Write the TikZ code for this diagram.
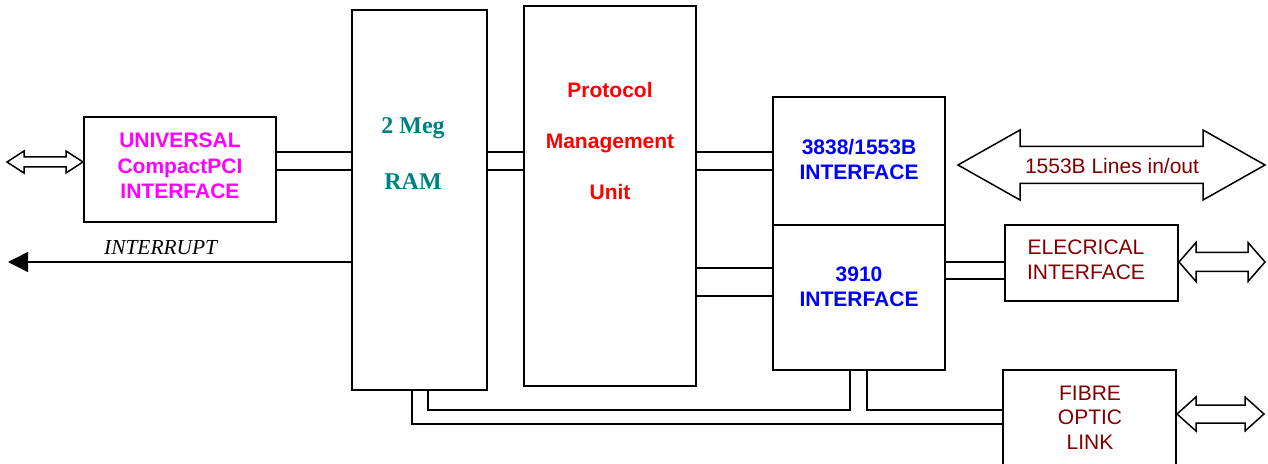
\documentclass[tikz,border=0pt]{standalone}
\usepackage{fontspec}
\setmainfont{Liberation Serif}
\setsansfont{Liberation Sans}
\usetikzlibrary{arrows.meta,calc}
\definecolor{pcic}{HTML}{FF00FF}
\definecolor{ramc}{HTML}{008080}
\definecolor{pmuc}{HTML}{FF0000}
\definecolor{ifc}{HTML}{0000FF}
\definecolor{extc}{HTML}{800000}
\tikzset{
  blk/.style={draw,line width=1pt,inner sep=0pt},
  lbl/.style={font=\sffamily\bfseries\fontsize{10.5}{12.75}\selectfont,align=center,inner sep=0pt},
  pmulbl/.style={lbl,font=\sffamily\bfseries\fontsize{10.5}{25.5}\selectfont,text=pmuc},
  ramlbl/.style={font=\rmfamily\bfseries\fontsize{12}{28}\selectfont,text=ramc,align=center,inner sep=0pt},
  ext/.style={font=\sffamily\fontsize{10.5}{12.25}\selectfont,text=extc,align=center,inner sep=0pt},
  bus/.style={line width=0.75pt},
  dbl/.style={draw,line width=0.75pt,fill=white,line join=miter},
}
% hollow double arrow between two points at the same height
\newcommand{\dblarr}[5]{\draw[dbl] (#1) -- ([shift={(#3,-#4)}]#1) -- ([shift={(#3,-#5)}]#1)
  -- ([shift={(-#3,-#5)}]#2) -- ([shift={(-#3,-#4)}]#2) -- (#2) -- ([shift={(-#3,#4)}]#2)
  -- ([shift={(-#3,#5)}]#2) -- ([shift={(#3,#5)}]#1) -- ([shift={(#3,#4)}]#1) -- cycle;}
\begin{document}
\begin{tikzpicture}[x=0.5pt,y=-0.5pt]
  \useasboundingbox (0,0) rectangle (1268,464);
  \clip (0,0) rectangle (1268,464);
  % blocks
  \node[blk,minimum width=96pt,minimum height=52.5pt] (upci) at (180,169.5) {};
  \node[blk,minimum width=67.5pt,minimum height=190pt] (ram) at (419.5,200) {};
  \node[blk,minimum width=86pt,minimum height=190pt] (pmu) at (610,196) {};
  \node[blk,minimum width=86pt,minimum height=64pt] (mil) at (859,161) {};
  \node[blk,minimum width=86pt,minimum height=72.5pt] (ifx) at (859,297.5) {};
  \node[blk,minimum width=86.5pt,minimum height=38pt] (elec) at (1091.5,263) {};
  \node[blk,minimum width=86.5pt,minimum height=50pt] (fibre) at (1089.5,420) {};
  % labels
  \node[lbl,text=pcic] (upcit) at (180,166) {UNIVERSAL\\CompactPCI\\INTERFACE};
  \node[ramlbl] (ramt) at (413,154) {2 Meg\\RAM};
  \node[pmulbl] (pmut) at (610,141) {Protocol\\Management\\Unit};
  \node[lbl,text=ifc] (milt) at (859,159.5) {3838/1553B\\INTERFACE};
  \node[lbl,text=ifc] (ifxt) at (859,287) {3910\\INTERFACE};
  \node[ext] (elect) at (1086,260) {ELECRICAL\\INTERFACE};
  \node[ext] (fibret) at (1090,417.5) {FIBRE\\OPTIC\\LINK};
  % parallel links
  \foreach \y in {152,170} {
    \draw[bus] (upci.east |- 0,\y) -- (ram.west |- 0,\y);
    \draw[bus] (ram.east |- 0,\y) -- (pmu.west |- 0,\y);
    \draw[bus] (pmu.east |- 0,\y) -- (mil.west |- 0,\y);
  }
  \foreach \y in {268,296} \draw[bus] (pmu.east |- 0,\y) -- (ifx.west |- 0,\y);
  \foreach \y in {262,279} \draw[bus] (ifx.east |- 0,\y) -- (elec.west |- 0,\y);
  % interrupt
  \coordinate (irq) at (8,262);
  \draw[bus,-{Triangle[length=10pt,width=10pt]}] (ram.west |- irq) -- node[pos=0.555,above,font=\itshape\fontsize{10.7}{12}\selectfont,inner sep=3.5pt] (irqt) {INTERRUPT} (irq);
  % fibre bus
  \draw[bus] (ram.south -| 412,0) -- (412,424) -- (fibre.west |- 0,424);
  \draw[bus] (ram.south -| 428,0) -- (428,410) -- (850,410) -- (ifx.south -| 850,0);
  \draw[bus] (ifx.south -| 867,0) -- (867,410) -- (fibre.west |- 0,410);
  % external ports
  \coordinate (pin) at (7,162); \coordinate (pinr) at (upci.west |- pin);
  \dblarr{pin}{pinr}{17}{11}{5}
  \coordinate (lnl) at (958,165); \coordinate (lnr) at (1265,165);
  \dblarr{lnl}{lnr}{62}{35}{18.5}
  \node[ext] (linest) at (1112,166) {1553B Lines in/out};
  \coordinate (eout) at (1265,262); \coordinate (ein) at (elec.east |- eout);
  \dblarr{ein}{eout}{17}{19.5}{9.5}
  \coordinate (fout) at (1264,414); \coordinate (fin) at (fibre.east |- fout);
  \dblarr{fin}{fout}{19}{17}{9}
\end{tikzpicture}
\end{document}
